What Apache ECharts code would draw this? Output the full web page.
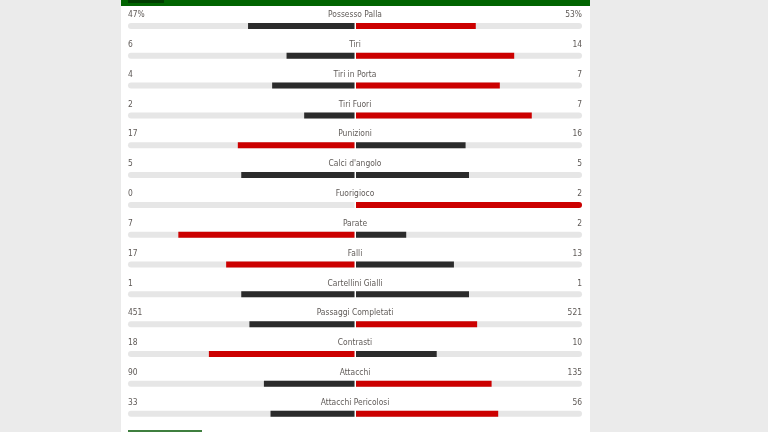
<!DOCTYPE html>
<html>
<head>
<meta charset="utf-8">
<script src="https://cdn.jsdelivr.net/npm/echarts@6/dist/echarts.min.js"></script>
<style>
  html, body { margin: 0; padding: 0; background: #ebebeb; }
  #stats { width: 768px; height: 432px; }
</style>
</head>
<body>
<div id="stats"></div>
<script>
// match stats: home on the left, away on the right
var statNames = ['Possesso Palla', 'Tiri', 'Tiri in Porta', 'Tiri Fuori', 'Punizioni',
    "Calci d'angolo", 'Fuorigioco', 'Parate', 'Falli', 'Cartellini Gialli',
    'Passaggi Completati', 'Contrasti', 'Attacchi', 'Attacchi Pericolosi'];
var homeVals = [47, 6, 4, 2, 17, 5, 0, 7, 17, 1, 451, 18, 90, 33];
var awayVals = [53, 14, 7, 7, 16, 5, 2, 2, 13, 1, 521, 10, 135, 56];
var valueSuffix = ['%', '', '', '', '', '', '', '', '', '', '', '', '', ''];

var RED = '#cc0000', DARK = '#2b2b2b', TRACK = '#e6e6e6';

function share(a, b) { return (a + b) ? a / (a + b) : 0; }

// bigger value is red, ties and smaller are dark; a full bar keeps the track's round end
function barItem(v, other, radius) {
    var s = share(v, other);
    return {
        value: s,
        itemStyle: {color: v > other ? RED : DARK, borderRadius: s >= 1 ? radius : 0}
    };
}
var homeData = homeVals.map(function (v, i) { return barItem(v, awayVals[i], [3, 0, 0, 3]); });
var awayData = awayVals.map(function (v, i) { return barItem(v, homeVals[i], [0, 3, 3, 0]); });
var ones = statNames.map(function () { return 1; });

var chart = echarts.init(document.getElementById('stats'));

var font = "'Liberation Sans Narrow', 'DejaVu Sans Condensed', sans-serif";
var txt = {color: '#5f5a57', fontSize: 8.4, fontFamily: font};

option = {
    backgroundColor: '#ebebeb',
    animation: false,
    graphic: [
        {type: 'rect', z: -10, shape: {x: 121, y: 0, width: 469, height: 432}, style: {fill: '#fff'}},
        {type: 'rect', shape: {x: 121, y: 0, width: 469, height: 6}, style: {fill: '#006400'}},
        {type: 'rect', shape: {x: 128, y: 0, width: 36, height: 3}, style: {fill: '#003c00'}},
        {type: 'rect', shape: {x: 128, y: 430, width: 74, height: 2}, style: {fill: '#3f7f3f'}}
    ],
    grid: [
        {left: 128, right: 413.5, top: 11, bottom: 3.4},
        {left: 356, right: 186, top: 11, bottom: 3.4}
    ],
    xAxis: [
        {gridIndex: 0, type: 'value', min: 0, max: 1, inverse: true, show: false},
        {gridIndex: 1, type: 'value', min: 0, max: 1, show: false}
    ],
    yAxis: [
        {
            gridIndex: 0, type: 'category', inverse: true, data: statNames,
            axisLine: {show: false}, axisTick: {show: false}, splitLine: {show: false},
            axisLabel: {
                margin: 0,
                align: 'left',
                padding: [0, 0, 22, 0],
                formatter: function (name, i) {
                    return '{l|' + homeVals[i] + valueSuffix[i] + '}{n|' + name + '}{r|' +
                        awayVals[i] + valueSuffix[i] + '}';
                },
                rich: {
                    l: echarts.util.extend({width: 120, align: 'left'}, txt),
                    n: echarts.util.extend({width: 214, align: 'center'}, txt),
                    r: echarts.util.extend({width: 120, align: 'right'}, txt)
                }
            }
        },
        {gridIndex: 1, type: 'category', inverse: true, data: statNames, show: false}
    ],
    series: [
        {
            name: 'track home', type: 'bar', xAxisIndex: 0, yAxisIndex: 0, data: ones,
            barWidth: 6, barGap: '-100%', silent: true,
            itemStyle: {color: TRACK, borderRadius: [3, 0, 0, 3]}
        },
        {
            name: 'home', type: 'bar', xAxisIndex: 0, yAxisIndex: 0, data: homeData,
            barWidth: 6, barGap: '-100%'
        },
        {
            name: 'track away', type: 'bar', xAxisIndex: 1, yAxisIndex: 1, data: ones,
            barWidth: 6, barGap: '-100%', silent: true,
            itemStyle: {color: TRACK, borderRadius: [0, 3, 3, 0]}
        },
        {
            name: 'away', type: 'bar', xAxisIndex: 1, yAxisIndex: 1, data: awayData,
            barWidth: 6, barGap: '-100%'
        }
    ]
};
chart.setOption(option);
</script>
</body>
</html>
